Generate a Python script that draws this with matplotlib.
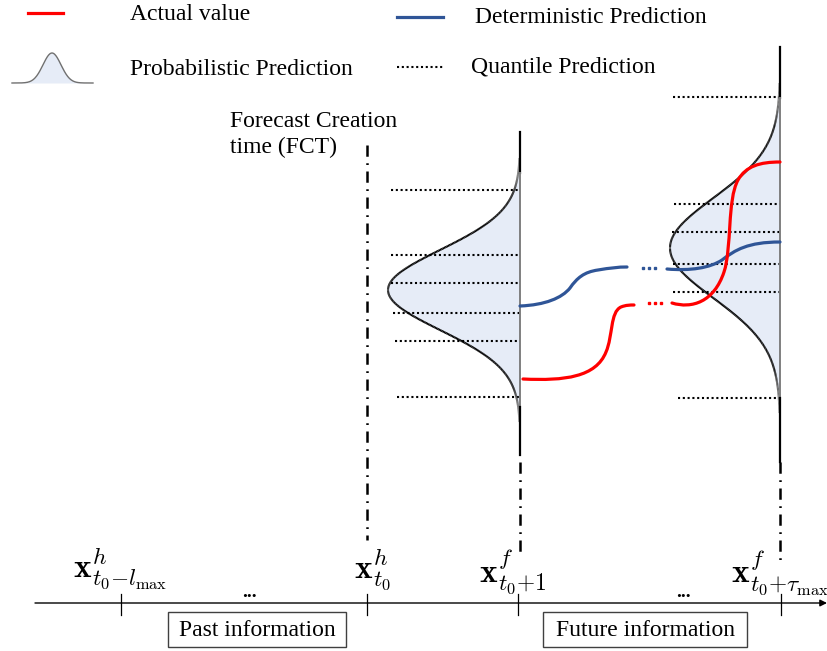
import matplotlib
matplotlib.use('Agg')
import matplotlib.pyplot as plt
import numpy as np
from matplotlib.path import Path
from matplotlib.patches import PathPatch, Rectangle
from matplotlib.collections import LineCollection

plt.rcParams['font.family'] = ['Liberation Serif', 'DejaVu Serif']
plt.rcParams['mathtext.fontset'] = 'cm'

# ---- diagram content (pixel coordinates, y grows downward) ----
RED = '#FF0000'
BLUE = '#2F5597'
FILL = '#E6ECF7'

# predictive distributions at t0+1 and t0+tau_max
dist_base = [520, 780]
dist_mu = [290, 248]
dist_sigma = [40, 50]
dist_peak = [132, 110]
dist_line = [(132, 455), (47, 462)]

# quantile levels (y) and left ends of the dotted lines
quant_y = [[190, 255, 283, 313, 341, 397],
           [97, 204, 232, 264, 292, 398]]
quant_left = [[391, 391, 391, 393, 395, 397],
              [673, 674, 672, 673, 673, 678]]

# curve control points (cubic Bezier: start, then triplets)
blue_a = [(520, 306), (545, 305), (562, 298), (570, 288),
          (577, 278), (584, 272), (598, 270),
          (610, 268), (618, 267), (627, 267)]
blue_b = [(667, 269), (690, 271), (710, 268), (722, 260),
          (735, 250), (748, 242), (780, 242)]
red_a = [(523, 379), (565, 381), (596, 377), (606, 352),
         (613, 336), (610, 312), (621, 307),
         (626, 305), (630, 305), (634, 305)]
red_b = [(672, 303), (692, 309), (714, 302), (724, 272),
         (732, 248), (727, 200), (738, 180),
         (746, 166), (760, 162), (780, 162)]
blue_dots_x = [643, 649, 655]
red_dots_x = [649, 655, 661]

# time axis
tick_x = [121, 367, 518, 781]
tick_labels = [r'$\mathbf{x}^{h}_{t_0{-}l_{\max}}$', r'$\mathbf{x}^{h}_{t_0}$',
               r'$\mathbf{x}^{f}_{t_0{+}1}$', r'$\mathbf{x}^{f}_{t_0{+}\tau_{\max}}$']
label_pos = [(73, 578), (354, 579), (479, 583), (731, 583)]
fct_x = 367

fig = plt.figure(figsize=(8.27, 6.51), dpi=100)
ax = fig.add_axes([0, 0, 1, 1])
ax.set_xlim(0, 827)
ax.set_ylim(651, 0)
ax.axis('off')

dashdot = (0, (4.5, 2.6, 0.7, 2.6))
dotted = (0, (1, 1.3))


def bezier(pts, color, lw=2.3):
    codes = [Path.MOVETO] + [Path.CURVE4] * (len(pts) - 1)
    ax.add_patch(PathPatch(Path(pts, codes), fc='none', ec=color, lw=lw,
                           capstyle='round', zorder=6))


def density(base, mu, sig, peak, top, bottom):
    y = np.linspace(mu - 3.3 * sig, mu + 3.3 * sig, 400)
    w = peak * np.exp(-0.5 * ((y - mu) / sig) ** 2)
    x = base - w
    ax.fill_betweenx(y, x, base, color=FILL, lw=0, zorder=1)
    pts = np.column_stack([x, y])
    segs = np.stack([pts[:-1], pts[1:]], axis=1)
    r = np.clip((w[:-1] / peak) / 0.05, 0, 1)
    g = 0.55 * (1 - r)
    ax.add_collection(LineCollection(segs, colors=np.column_stack([g, g, g]),
                                     lw=1.5, zorder=4))
    ax.plot([base, base], [top, y[0] + 15], color='black', lw=1.6, zorder=4)
    ax.plot([base, base], [y[0] + 15, y[-1] - 15], color='#7F7F7F', lw=1.4, zorder=4)
    ax.plot([base, base], [y[-1] - 15, bottom], color='black', lw=1.6, zorder=4)


for i in range(2):
    density(dist_base[i], dist_mu[i], dist_sigma[i], dist_peak[i], *dist_line[i])
    for yq, xl in zip(quant_y[i], quant_left[i]):
        ax.plot([xl, dist_base[i]], [yq, yq], color='black', lw=1.5,
                linestyle=dotted, zorder=3)

bezier(blue_a, BLUE)
bezier(blue_b, BLUE)
bezier(red_a, RED)
bezier(red_b, RED)
ax.plot(blue_dots_x, [268] * 3, 's', color=BLUE, ms=2.1, zorder=6)
ax.plot(red_dots_x, [303] * 3, 's', color=RED, ms=2.1, zorder=6)

# vertical dash-dot guides
ax.plot([fct_x, fct_x], [145, 540], color='black', lw=1.8, linestyle=dashdot)
ax.plot([520, 520], [462, 553], color='black', lw=1.8, linestyle=dashdot)
ax.plot([780, 780], [462, 563], color='black', lw=1.8, linestyle=dashdot)

ax.text(230, 127, 'Forecast Creation', fontsize=17, va='baseline')
ax.text(230, 153, 'time (FCT)', fontsize=17, va='baseline')

# legend
ax.plot([28, 63], [13, 13], color=RED, lw=2.3)
ax.text(130, 20, 'Actual value', fontsize=17, va='baseline')
ax.plot([397, 443], [17, 17], color=BLUE, lw=2.3)
ax.text(475, 23, 'Deterministic Prediction', fontsize=17, va='baseline')
gx = np.linspace(12, 93, 200)
gy = 83 - 30 * np.exp(-0.5 * ((gx - 52) / 9) ** 2)
ax.fill_between(gx, gy, 83, color=FILL, lw=0)
ax.plot(gx, gy, color='#707070', lw=1.0)
ax.text(130, 75, 'Probabilistic Prediction', fontsize=17, va='baseline')
ax.plot([397, 443], [67, 67], color='black', lw=1.5, linestyle=dotted)
ax.text(471, 72, 'Quantile Prediction', fontsize=17, va='baseline')

# time axis with ticks and labels
ax.annotate('', xy=(827, 603), xytext=(35, 603),
            arrowprops=dict(arrowstyle='-|>', color='black', lw=1.0,
                            mutation_scale=10, shrinkA=0, shrinkB=0))
for tx in tick_x:
    ax.plot([tx, tx], [594, 615], color='black', lw=0.9)
for lab, (lx, ly) in zip(tick_labels, label_pos):
    ax.text(lx, ly, lab, fontsize=24, va='baseline', ha='left')
ax.text(249, 597, '...', fontsize=14, fontweight='bold', ha='center', va='baseline')
ax.text(683, 597, '...', fontsize=14, fontweight='bold', ha='center', va='baseline')

for (x0, x1), label in [((168, 346), 'Past information'),
                        ((543, 747), 'Future information')]:
    ax.add_patch(Rectangle((x0, 612), x1 - x0, 35, fc='white', ec='#404040', lw=1.0))
    ax.text((x0 + x1) / 2, 630, label, fontsize=17, ha='center', va='center')

fig.savefig('out.png', dpi=100, facecolor='white')
